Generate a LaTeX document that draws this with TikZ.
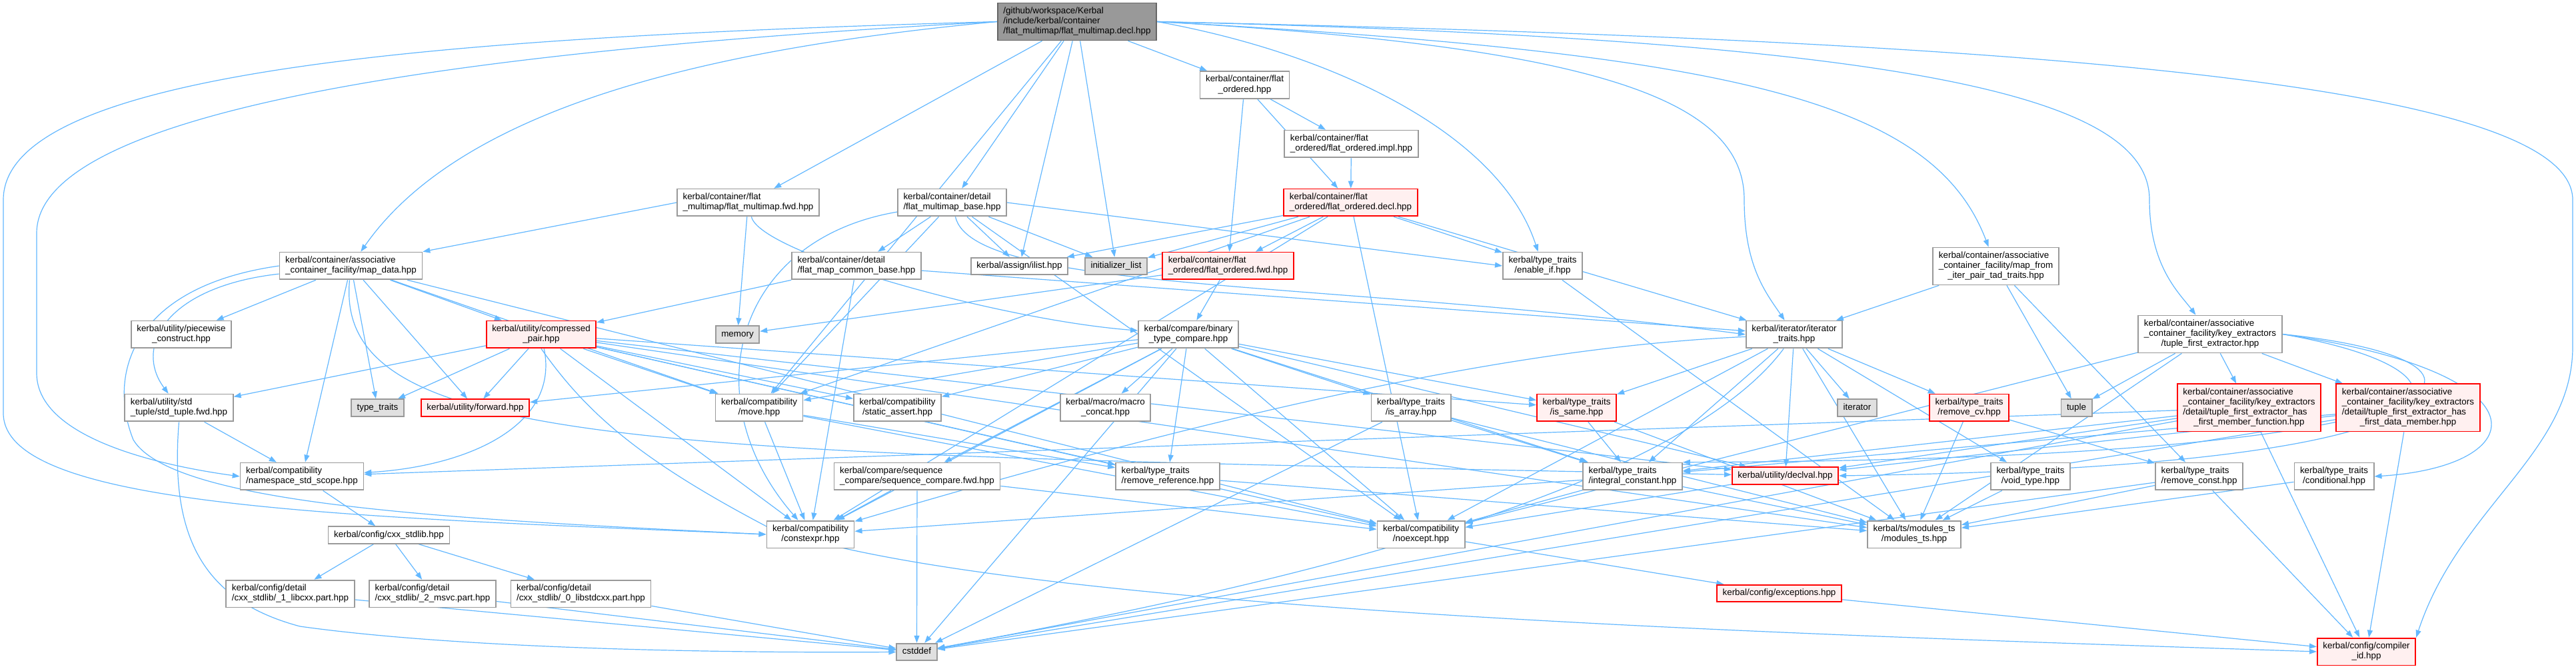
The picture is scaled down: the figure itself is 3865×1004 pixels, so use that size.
\documentclass[tikz,border=0pt]{standalone}
\usepackage{fontspec}
\setmainfont{Liberation Sans}
\usetikzlibrary{arrows.meta,backgrounds}
\definecolor{edgeblue}{HTML}{63B8FF}
\definecolor{boxgray}{HTML}{999999}
\definecolor{rootline}{HTML}{666666}
\definecolor{sysfill}{HTML}{E0E0E0}
\definecolor{redfill}{HTML}{FFF0F0}
\definecolor{redline}{HTML}{FF0000}
\newcommand{\lastln}[1]{\multicolumn{1}{@{}c@{}}{#1}}
\newcommand{\lbl}[1]{\begin{tabular}{@{}l@{}}#1\end{tabular}}
\tikzset{
  file/.style={draw=boxgray, fill=white, line width=0.9pt, inner xsep=4.3pt, inner ysep=2.6pt,
    font=\fontsize{6.7}{7.6}\selectfont},
  sysfile/.style={file, fill=sysfill},
  redfile/.style={file, draw=redline, fill=redfill},
  rootfile/.style={file, draw=rootline, fill=boxgray},
  dep/.style={draw=edgeblue, line width=0.6pt, -{Triangle[length=5.5pt,width=4pt]}}
}
\begin{document}
\begin{tikzpicture}[x=0.5pt, y=-0.5pt]
\useasboundingbox (0,0) rectangle (3865,1004);
% files
\node[rootfile] (root) at (1616,32.5) {\lbl{/github/workspace/Kerbal\\/include/kerbal/container\\/flat\_multimap/flat\_multimap.decl.hpp}};
\node[file] (fo) at (1867.5,127.5) {\lbl{kerbal/container/flat\\\lastln{\_ordered.hpp}}};
\node[file] (impl) at (2027.5,216) {\lbl{kerbal/container/flat\\\lastln{\_ordered/flat\_ordered.impl.hpp}}};
\node[redfile] (decl) at (2026.5,304) {\lbl{kerbal/container/flat\\\lastln{\_ordered/flat\_ordered.decl.hpp}}};
\node[file] (fwd) at (1122.5,304) {\lbl{kerbal/container/flat\\\lastln{\_multimap/flat\_multimap.fwd.hpp}}};
\node[file] (base) at (1428.5,304) {\lbl{kerbal/container/detail\\\lastln{/flat\_multimap\_base.hpp}}};
\node[file] (mapdata) at (526.5,399) {\lbl{kerbal/container/associative\\\lastln{\_container\_facility/map\_data.hpp}}};
\node[file] (piecewise) at (272,502) {\lbl{kerbal/utility/piecewise\\\lastln{\_construct.hpp}}};
\node[redfile] (cpair) at (812,502) {\lbl{kerbal/utility/compressed\\\lastln{\_pair.hpp}}};
\node[file] (stdtuple) at (268.5,612) {\lbl{kerbal/utility/std\\\lastln{\_tuple/std\_tuple.fwd.hpp}}};
\node[sysfile] (typetraits) at (566.5,612) {\lbl{type\_traits}};
\node[redfile] (forward) at (713,612) {\lbl{kerbal/utility/forward.hpp}};
\node[file] (commonbase) at (1285,399) {\lbl{kerbal/container/detail\\\lastln{/flat\_map\_common\_base.hpp}}};
\node[file] (ilist) at (1529.5,399.5) {\lbl{kerbal/assign/ilist.hpp}};
\node[sysfile] (initlist) at (1674.5,399.5) {\lbl{initializer\_list}};
\node[redfile] (ofwd) at (1842.5,399) {\lbl{kerbal/container/flat\\\lastln{\_ordered/flat\_ordered.fwd.hpp}}};
\node[sysfile] (memory) at (1106.5,502) {\lbl{memory}};
\node[file] (btc) at (1783,502) {\lbl{kerbal/compare/binary\\\lastln{\_type\_compare.hpp}}};
\node[file] (move) at (1139,612) {\lbl{kerbal/compatibility\\\lastln{/move.hpp}}};
\node[file] (sassert) at (1346.5,612) {\lbl{kerbal/compatibility\\\lastln{/static\_assert.hpp}}};
\node[file] (mconcat) at (1658.5,612) {\lbl{kerbal/macro/macro\\\lastln{\_concat.hpp}}};
\node[file] (enableif) at (2314.5,399) {\lbl{kerbal/type\_traits\\\lastln{/enable\_if.hpp}}};
\node[file] (ittraits) at (2692,502) {\lbl{kerbal/iterator/iterator\\\lastln{\_traits.hpp}}};
\node[file] (isarray) at (2117,612) {\lbl{kerbal/type\_traits\\\lastln{/is\_array.hpp}}};
\node[redfile] (issame) at (2365.5,612) {\lbl{kerbal/type\_traits\\\lastln{/is\_same.hpp}}};
\node[sysfile] (iterator) at (2786.5,612) {\lbl{iterator}};
\node[file] (mapfrom) at (2994.5,399.5) {\lbl{kerbal/container/associative\\\_container\_facility/map\_from\\\lastln{\_iter\_pair\_tad\_traits.hpp}}};
\node[file] (tfe) at (3316,501.5) {\lbl{kerbal/container/associative\\\_container\_facility/key\_extractors\\\lastln{/tuple\_first\_extractor.hpp}}};
\node[redfile] (removecv) at (2954.5,612) {\lbl{kerbal/type\_traits\\\lastln{/remove\_cv.hpp}}};
\node[sysfile] (tuple) at (3115.5,612) {\lbl{tuple}};
\node[redfile] (hfmf) at (3374.5,612) {\lbl{kerbal/container/associative\\\_container\_facility/key\_extractors\\/detail/tuple\_first\_extractor\_has\\\lastln{\_first\_member\_function.hpp}}};
\node[redfile] (hfdm) at (3613,612) {\lbl{kerbal/container/associative\\\_container\_facility/key\_extractors\\/detail/tuple\_first\_extractor\_has\\\lastln{\_first\_data\_member.hpp}}};
\node[file] (nsscope) at (453,715) {\lbl{kerbal/compatibility\\\lastln{/namespace\_std\_scope.hpp}}};
\node[file] (cxxstdlib) at (583.5,803) {\lbl{kerbal/config/cxx\_stdlib.hpp}};
\node[file] (libcxx) at (435.5,891) {\lbl{kerbal/config/detail\\\lastln{/cxx\_stdlib/\_1\_libcxx.part.hpp}}};
\node[file] (msvc) at (649,891) {\lbl{kerbal/config/detail\\\lastln{/cxx\_stdlib/\_2\_msvc.part.hpp}}};
\node[file] (libstdcxx) at (871.5,891) {\lbl{kerbal/config/detail\\\lastln{/cxx\_stdlib/\_0\_libstdcxx.part.hpp}}};
\node[file] (seqfwd) at (1376,715) {\lbl{kerbal/compare/sequence\\\lastln{\_compare/sequence\_compare.fwd.hpp}}};
\node[file] (removeref) at (1752,715) {\lbl{kerbal/type\_traits\\\lastln{/remove\_reference.hpp}}};
\node[file] (constexpr) at (1216,802) {\lbl{kerbal/compatibility\\\lastln{/constexpr.hpp}}};
\node[sysfile] (cstddef) at (1375.5,978.5) {\lbl{cstddef}};
\node[file] (intconst) at (2449.5,715) {\lbl{kerbal/type\_traits\\\lastln{/integral\_constant.hpp}}};
\node[redfile] (declval) at (2678.5,714) {\lbl{kerbal/utility/declval.hpp}};
\node[file] (noexcept) at (2132,802) {\lbl{kerbal/compatibility\\\lastln{/noexcept.hpp}}};
\node[file] (modulests) at (2872,802) {\lbl{kerbal/ts/modules\_ts\\\lastln{/modules\_ts.hpp}}};
\node[redfile] (exceptions) at (2669.5,890.5) {\lbl{kerbal/config/exceptions.hpp}};
\node[file] (voidtype) at (3046.5,715) {\lbl{kerbal/type\_traits\\\lastln{/void\_type.hpp}}};
\node[file] (removeconst) at (3299.5,715) {\lbl{kerbal/type\_traits\\\lastln{/remove\_const.hpp}}};
\node[file] (conditional) at (3502,715) {\lbl{kerbal/type\_traits\\\lastln{/conditional.hpp}}};
\node[redfile] (compilerid) at (3550.5,978) {\lbl{kerbal/config/compiler\\\lastln{\_id.hpp}}};
% includes
\begin{scope}[on background layer]
\fill[white] (0,0) rectangle (3865,1004);
\draw[dep] (root.west) .. controls (700,55) and (5,100) .. (5,300) -- (5,620) .. controls (5,760) and (500,775) .. (constexpr.west);
\draw[dep] (root.west) .. controls (800,70) and (55,150) .. (55,350) -- (55,560) .. controls (55,660) and (250,700) .. (nsscope.west);
\draw[dep] (root.west) .. controls (1100,70) and (700,150) .. (mapdata);
\draw[dep] (root) -- (fwd);
\draw[dep] (root) -- (base);
\draw[dep] (root) -- (fo);
\draw[dep] (root) -- (ilist);
\draw[dep] (root) -- (initlist);
\draw[dep] (root) -- (move);
\draw[dep] (root.east) .. controls (2000,80) and (2250,200) .. (enableif);
\draw[dep] (root.east) .. controls (2400,70) and (2617,150) .. (2617,300) .. controls (2617,400) and (2650,440) .. (ittraits);
\draw[dep] (root.east) .. controls (2600,80) and (2900,150) .. (mapfrom);
\draw[dep] (root.east) .. controls (2900,60) and (3225,150) .. (3225,300) .. controls (3225,400) and (3270,440) .. (tfe);
\draw[dep] (root.east) .. controls (3000,60) and (3860,120) .. (3860,300) -- (3860,520) .. controls (3860,680) and (3690,760) .. (compilerid.north east);
\draw[dep] (fwd) -- (memory);
\draw[dep] (fwd) .. controls (1140,380) and (1500,480) .. (btc);
\draw[dep] (fwd.west) -- (mapdata.north east);
\draw[dep] (base) -- (commonbase);
\draw[dep] (base) -- (ilist);
\draw[dep] (base) -- (initlist);
\draw[dep] (base.east) -- (enableif.west);
\draw[dep] (base) -- (move);
\draw[dep] (base) .. controls (1100,360) and (1040,600) .. (constexpr);
\draw[dep] (base) .. controls (1460,440) and (2000,420) .. (ittraits.west);
\draw[dep] (base) -- (noexcept);
\draw[dep] (commonbase) -- (cpair);
\draw[dep] (commonbase) -- (constexpr);
\draw[dep] (commonbase) -- (ittraits);
\draw[dep] (mapdata) -- (piecewise);
\draw[dep] (mapdata) -- (cpair);
\draw[dep] (mapdata) .. controls (250,430) and (200,520) .. (stdtuple);
\draw[dep] (mapdata) -- (typetraits);
\draw[dep] (mapdata) -- (forward);
\draw[dep] (mapdata) -- (nsscope);
\draw[dep] (mapdata) -- (move);
\draw[dep] (mapdata.west) .. controls (200,430) and (160,560) .. (200,660) .. controls (260,760) and (700,780) .. (constexpr.west);
\draw[dep] (mapdata) -- (noexcept);
\draw[dep] (mapdata) .. controls (500,680) and (1000,680) .. (declval);
\draw[dep] (cpair) -- (stdtuple);
\draw[dep] (cpair) -- (typetraits);
\draw[dep] (cpair) -- (forward);
\draw[dep] (cpair) .. controls (840,640) and (700,700) .. (nsscope);
\draw[dep] (cpair) -- (move);
\draw[dep] (cpair) -- (sassert);
\draw[dep] (cpair) -- (constexpr);
\draw[dep] (cpair) -- (noexcept);
\draw[dep] (cpair) -- (issame);
\draw[dep] (cpair) -- (declval);
\draw[dep] (cpair) -- (removeref);
\draw[dep] (cpair) -- (modulests);
\draw[dep] (cpair.south) .. controls (880,620) and (960,690) .. (1150,790) .. controls (1500,920) and (2800,955) .. (compilerid.west);
\draw[dep] (stdtuple) -- (nsscope);
\draw[dep] (stdtuple.south) .. controls (255,800) and (300,900) .. (450,940) .. controls (700,975) and (1100,980) .. (cstddef.west);
\draw[dep] (nsscope) -- (cxxstdlib);
\draw[dep] (cxxstdlib) -- (libcxx);
\draw[dep] (cxxstdlib) -- (msvc);
\draw[dep] (cxxstdlib) -- (libstdcxx);
\draw[dep] (libcxx) -- (cstddef);
\draw[dep] (msvc) -- (cstddef);
\draw[dep] (libstdcxx) -- (cstddef);
\draw[dep] (fo) -- (ofwd);
\draw[dep] (fo) -- (decl);
\draw[dep] (fo) -- (impl);
\draw[dep] (impl) -- (decl);
\draw[dep] (decl) -- (ofwd);
\draw[dep] (decl) -- (ilist);
\draw[dep] (decl) -- (initlist);
\draw[dep] (decl) -- (enableif);
\draw[dep] (decl) -- (ittraits);
\draw[dep] (decl) -- (move);
\draw[dep] (decl) -- (constexpr);
\draw[dep] (decl) -- (noexcept);
\draw[dep] (ofwd) -- (memory);
\draw[dep] (ofwd) -- (btc);
\draw[dep] (btc) -- (forward);
\draw[dep] (btc) -- (sassert);
\draw[dep] (btc) -- (mconcat);
\draw[dep] (btc) -- (removeref);
\draw[dep] (btc) -- (seqfwd);
\draw[dep] (btc) -- (constexpr);
\draw[dep] (btc) -- (noexcept);
\draw[dep] (btc) -- (isarray);
\draw[dep] (btc) -- (issame);
\draw[dep] (btc) -- (intconst);
\draw[dep] (btc) -- (declval);
\draw[dep] (btc) -- (cstddef);
\draw[dep] (btc) -- (move);
\draw[dep] (enableif) -- (modulests);
\draw[dep] (ittraits) -- (issame);
\draw[dep] (ittraits) -- (iterator);
\draw[dep] (ittraits) -- (intconst);
\draw[dep] (ittraits) -- (declval);
\draw[dep] (ittraits) -- (removecv);
\draw[dep] (ittraits) .. controls (2300,520) and (1900,600) .. (constexpr);
\draw[dep] (ittraits) -- (noexcept);
\draw[dep] (ittraits) -- (modulests);
\draw[dep] (ittraits) -- (voidtype);
\draw[dep] (ittraits) .. controls (2500,760) and (1800,900) .. (cstddef);
\draw[dep] (isarray) -- (intconst);
\draw[dep] (isarray) -- (cstddef);
\draw[dep] (isarray) -- (modulests);
\draw[dep] (issame) -- (intconst);
\draw[dep] (issame) -- (modulests);
\draw[dep] (mapfrom) -- (ittraits);
\draw[dep] (mapfrom) -- (tuple);
\draw[dep] (mapfrom) -- (removeconst);
\draw[dep] (removecv) -- (removeconst);
\draw[dep] (removecv) -- (modulests);
\draw[dep] (tfe) -- (tuple);
\draw[dep] (tfe) -- (hfmf);
\draw[dep] (tfe) -- (hfdm);
\draw[dep] (tfe) -- (noexcept);
\draw[dep] (tfe) -- (modulests);
\draw[dep] (tfe.east) .. controls (3800,540) and (3780,690) .. (intconst.north east);
\draw[dep] (tfe.east) .. controls (3760,560) and (3740,700) .. (declval.east);
\draw[dep] (tfe.east) .. controls (3830,560) and (3800,700) .. (conditional.east);
\draw[dep] (hfmf) -- (nsscope);
\draw[dep] (hfmf) -- (intconst);
\draw[dep] (hfmf) -- (declval);
\draw[dep] (hfmf) -- (cstddef);
\draw[dep] (hfmf) -- (compilerid);
\draw[dep] (hfdm) -- (intconst);
\draw[dep] (hfdm) -- (declval);
\draw[dep] (hfdm) -- (cstddef);
\draw[dep] (hfdm) -- (compilerid);
\draw[dep] (voidtype) -- (modulests);
\draw[dep] (removeconst) -- (modulests);
\draw[dep] (removeconst) -- (compilerid);
\draw[dep] (removeconst) -- (cstddef);
\draw[dep] (conditional) -- (modulests);
\draw[dep] (intconst) -- (modulests);
\draw[dep] (intconst) -- (noexcept);
\draw[dep] (intconst) -- (constexpr);
\draw[dep] (declval) -- (noexcept);
\draw[dep] (noexcept) -- (exceptions);
\draw[dep] (exceptions) -- (compilerid);
\draw[dep] (move) -- (constexpr);
\draw[dep] (move) -- (noexcept);
\draw[dep] (move) -- (removeref);
\draw[dep] (seqfwd) -- (constexpr);
\draw[dep] (seqfwd) -- (cstddef);
\draw[dep] (seqfwd) -- (noexcept);
\draw[dep] (removeref) -- (modulests);
\end{scope}
\end{tikzpicture}
\end{document}
